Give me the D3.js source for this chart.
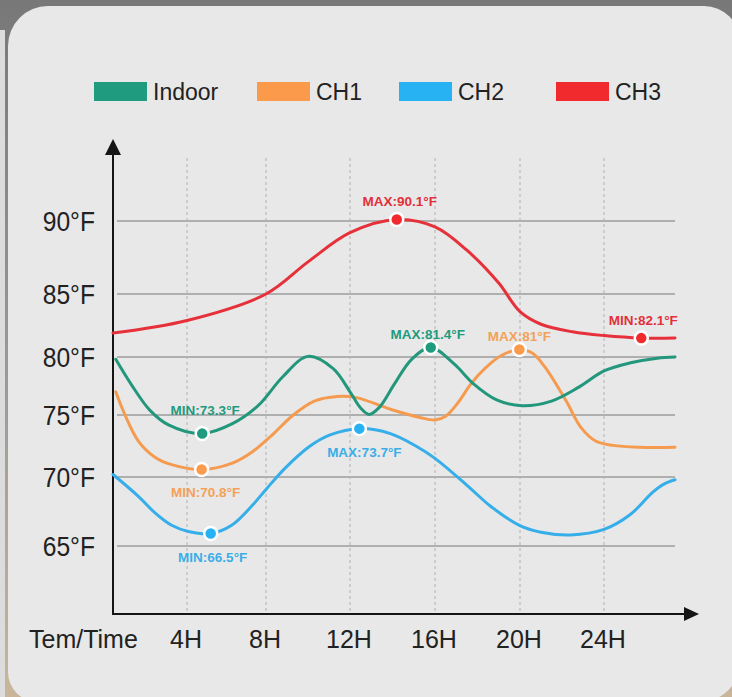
<!DOCTYPE html>
<html>
<head>
<meta charset="utf-8">
<script src="https://cdn.jsdelivr.net/npm/d3@7/dist/d3.min.js"></script>
<style>
  html, body { margin: 0; padding: 0; background: #7b7b7b; }
  svg { display: block; }
  text { font-family: "Liberation Sans", Arial, Helvetica, sans-serif; }
</style>
</head>
<body>
<script>
// ---------------- DATA ----------------
const seriesNames = ["Indoor", "CH1", "CH2", "CH3"];

const xTickHours  = [4, 8, 12, 16, 20, 24];
const xTickLabels = ["4H", "8H", "12H", "16H", "20H", "24H"];
const xAxisTitle  = "Tem/Time";

const yTickValues = [65, 70, 75, 80, 85, 90];
const yTickLabels = ["65°F", "70°F", "75°F", "80°F", "85°F", "90°F"];

const indoorHours = [0.15, 1.0, 2.0, 3.0, 4.77, 6.3, 7.6, 8.8, 10.0, 11.2, 12.0, 12.5, 12.9, 13.4, 14.1, 14.9, 15.8, 16.9, 17.8, 18.9, 20.1, 21.5, 22.8, 24, 25.5, 27, 28];
const indoorTemps = [79.8, 77.6, 75.4, 74.2, 73.5, 74.3, 75.8, 78.3, 80.05, 79.0, 77.0, 75.6, 75.05, 75.7, 77.7, 79.8, 80.75, 79.4, 77.7, 76.3, 75.8, 76.2, 77.4, 78.8, 79.5, 79.9, 80.0];

const ch1Hours = [0.15, 0.65, 1.37, 2.27, 3.17, 4.74, 6.26, 7.28, 8.3, 9.3, 10.3, 11.4, 12.3, 13.9, 15.3, 16, 16.5, 17.1, 17.7, 18.4, 19.1, 19.97, 20.6, 21.2, 22.2, 22.9, 23.6, 24.5, 26, 28];
const ch1Temps = [77.0, 75.0, 72.9, 71.6, 71.0, 70.6, 71.1, 72.0, 73.4, 75.0, 76.2, 76.6, 76.5, 75.5, 74.8, 74.6, 74.9, 76.1, 77.7, 79.1, 80.1, 80.6, 80.3, 79.1, 76.2, 74.0, 72.9, 72.55, 72.4, 72.4];

const ch2Hours = [0, 1.37, 2.27, 3.17, 4.07, 5.2, 6.26, 7.28, 8, 8.9, 10.1, 11.05, 12.44, 13.9, 15.1, 16, 17.65, 18.6, 19.97, 21, 22.4, 24, 25.5, 26.75, 27.4, 28];
const ch2Temps = [70.2, 68.6, 67.4, 66.5, 66.05, 65.9, 66.5, 67.9, 69.1, 70.7, 72.5, 73.4, 73.9, 73.5, 72.5, 71.5, 69.2, 67.9, 66.5, 66.0, 65.8, 66.2, 67.3, 68.9, 69.5, 69.8];

const ch3Hours = [0, 4, 8, 10, 12, 14.2, 16, 17.5, 19, 20, 21, 22.5, 24, 26.1, 28];
const ch3Temps = [81.9, 82.9, 85.0, 87.2, 89.2, 90.1, 89.6, 88.0, 85.75, 83.6, 82.6, 82.0, 81.7, 81.5, 81.5];

const annoSeries = ["Indoor", "CH1", "CH2", "CH2", "Indoor", "CH1", "CH3", "CH3"];
const annoHours  = [4.77, 4.74, 5.2, 12.44, 15.8, 19.97, 14.2, 26.1];
const annoTemps  = [73.5, 70.6, 65.9, 73.9, 80.75, 80.6, 90.1, 81.5];
const annoTexts  = ["MIN:73.3°F", "MIN:70.8°F", "MIN:66.5°F", "MAX:73.7°F", "MAX:81.4°F", "MAX:81°F", "MAX:90.1°F", "MIN:82.1°F"];

// ---------------- STYLE / LAYOUT ----------------
const W = 732, H = 697;
const lineColors  = { Indoor: "#22977c", CH1: "#f59b50", CH2: "#35aeea", CH3: "#e6303a" };
const swatchColors = { Indoor: "#1f9c7f", CH1: "#fb9a4b", CH2: "#27b2f4", CH3: "#f02a2d" };
const labelColors = { Indoor: "#1f9a7d", CH1: "#f4a158", CH2: "#3aaee8", CH3: "#e2303a" };
const annoOffsets = [[3, -19], [4, 27], [2, 28], [5, 28], [-3, -9], [0, -8], [3, -14], [2, -13]];
const legendX = [94, 257, 399, 556];

// piecewise scales (the printed chart has slightly uneven spacing)
const x = d3.scaleLinear()
  .domain([0, 4, 8, 12, 16, 20, 24, 28])
  .range([113, 187, 266, 350, 435, 520, 604, 675]);
const y = d3.scaleLinear()
  .domain([60, 65, 70, 75, 80, 85, 90])
  .range([614, 546, 477, 415, 357, 294, 221]);

const svg = d3.select("body").append("svg").attr("width", W).attr("height", H);
const defs = svg.append("defs");
const bg = defs.append("linearGradient").attr("id", "bg").attr("x1", 0).attr("y1", 0).attr("x2", 0).attr("y2", 1);
bg.append("stop").attr("offset", "0").attr("stop-color", "#787878");
bg.append("stop").attr("offset", "0.55").attr("stop-color", "#9a9a9a");
bg.append("stop").attr("offset", "1").attr("stop-color", "#c9b59a");

svg.append("rect").attr("width", W).attr("height", H).attr("fill", "url(#bg)");
svg.append("rect").attr("x", 0).attr("y", 30).attr("width", 5).attr("height", H - 30).attr("fill", "#dcdcdc");

// card with rounded corners
const card = d3.path();
const L = 8, T = 6, R = 740, B = 702;
card.moveTo(L + 40, T);
card.lineTo(R - 36, T);
card.arcTo(R, T, R, T + 36, 36);
card.lineTo(R, B - 40);
card.arcTo(R, B, R - 40, B, 40);
card.lineTo(L + 30, B);
card.arcTo(L, B, L, B - 30, 30);
card.lineTo(L, T + 40);
card.arcTo(L, T, L + 40, T, 40);
card.closePath();
svg.append("path").attr("d", card.toString()).attr("fill", "#e8e8e8");

// legend
const legend = svg.append("g");
seriesNames.forEach((s, i) => {
  legend.append("rect").attr("x", legendX[i]).attr("y", 82).attr("width", 53).attr("height", 19)
    .attr("fill", swatchColors[s]);
  legend.append("text").attr("x", legendX[i] + 59).attr("y", 100)
    .attr("font-size", 23).attr("fill", "#222").text(s);
});

// gridlines
const grid = svg.append("g");
grid.selectAll("line.h").data(yTickValues).join("line").attr("class", "h")
  .attr("x1", 117).attr("x2", x(28))
  .attr("y1", d => y(d)).attr("y2", d => y(d))
  .attr("stroke", "#9d9d9d").attr("stroke-width", 1.3);
grid.selectAll("line.v").data(xTickHours).join("line").attr("class", "v")
  .attr("x1", d => x(d)).attr("x2", d => x(d))
  .attr("y1", 158).attr("y2", y(60))
  .attr("stroke", "#b0b0b0").attr("stroke-width", 1).attr("stroke-dasharray", "3,3");

// axes
const ax = svg.append("g");
ax.append("line").attr("x1", x(0)).attr("x2", x(0)).attr("y1", y(60) + 1).attr("y2", 152)
  .attr("stroke", "#151515").attr("stroke-width", 2);
ax.append("path").attr("d", `M${x(0) - 8},155L${x(0) + 8},155L${x(0)},139Z`).attr("fill", "#151515");
ax.append("line").attr("x1", x(0) - 1).attr("x2", 686).attr("y1", y(60)).attr("y2", y(60))
  .attr("stroke", "#151515").attr("stroke-width", 2);
ax.append("path").attr("d", `M684,${y(60) - 7}L684,${y(60) + 7}L699,${y(60)}Z`).attr("fill", "#151515");

// y tick labels
svg.append("g").selectAll("text").data(yTickValues).join("text")
  .attr("transform", d => `translate(95,${y(d) + 10}) scale(0.88,1)`)
  .attr("text-anchor", "end").attr("font-size", 28).attr("fill", "#222")
  .text((d, i) => yTickLabels[i]);

// x tick labels
svg.append("g").selectAll("text").data(xTickHours).join("text")
  .attr("x", d => x(d) - 1).attr("y", 648)
  .attr("text-anchor", "middle").attr("font-size", 25).attr("fill", "#222")
  .text((d, i) => xTickLabels[i]);
svg.append("text").attr("x", 29).attr("y", 648).attr("font-size", 25).attr("fill", "#222").text(xAxisTitle);

// series lines
const seriesData = {
  Indoor: indoorHours.map((h, i) => [h, indoorTemps[i]]),
  CH1: ch1Hours.map((h, i) => [h, ch1Temps[i]]),
  CH2: ch2Hours.map((h, i) => [h, ch2Temps[i]]),
  CH3: ch3Hours.map((h, i) => [h, ch3Temps[i]])
};
const line = d3.line().x(d => x(d[0])).y(d => y(d[1])).curve(d3.curveCatmullRom.alpha(0.5));
["CH2", "CH1", "Indoor", "CH3"].forEach(s => {
  svg.append("path").attr("d", line(seriesData[s]))
    .attr("fill", "none").attr("stroke", lineColors[s]).attr("stroke-width", 3)
    .attr("stroke-linecap", "round").attr("stroke-linejoin", "round");
});

// markers + annotations
const annos = annoTexts.map((t, i) => ({ s: annoSeries[i], h: annoHours[i], v: annoTemps[i], t, off: annoOffsets[i] }));
svg.append("g").selectAll("circle").data(annos).join("circle")
  .attr("cx", d => x(d.h)).attr("cy", d => y(d.v)).attr("r", 6.5)
  .attr("fill", d => swatchColors[d.s]).attr("stroke", "#fff").attr("stroke-width", 2.5);
svg.append("g").selectAll("text").data(annos).join("text")
  .attr("x", d => x(d.h) + d.off[0]).attr("y", d => y(d.v) + d.off[1])
  .attr("text-anchor", "middle").attr("font-size", 13.5).attr("font-weight", "bold")
  .attr("fill", d => labelColors[d.s]).text(d => d.t);
</script>
</body>
</html>
